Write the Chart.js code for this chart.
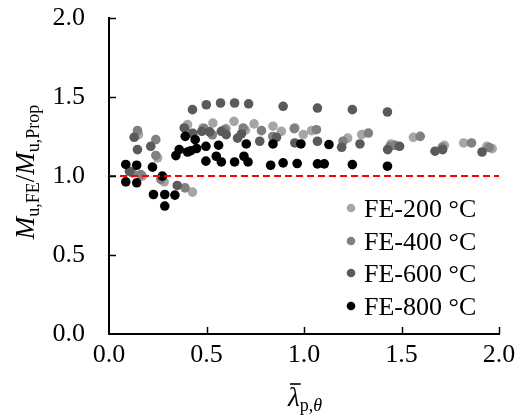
<!DOCTYPE html>
<html>
<head>
<meta charset="utf-8">
<script src="https://cdn.jsdelivr.net/npm/chart.js@4.4.1/dist/chart.umd.min.js"></script>
<style>
  html, body { margin: 0; padding: 0; background: #ffffff; }
  #wrap { width: 522px; height: 416px; position: relative; }
</style>
</head>
<body>
<div id="wrap"><canvas id="c" width="522" height="416"></canvas></div>
<script>
// ---- data ----
const seriesNames = ["FE-200 \u00b0C", "FE-400 \u00b0C", "FE-600 \u00b0C", "FE-800 \u00b0C"];
const seriesColors = ["#a6a6a6", "#808080", "#5a5a5a", "#000000"];

const fe200 = [[0.151,1.262],[0.249,1.115],[0.171,0.999],[0.283,0.963],[0.428,0.898],[0.403,1.325],
  [0.482,1.304],[0.533,1.335],[0.600,1.300],[0.641,1.346],[0.700,1.290],[0.744,1.330],[0.841,1.315],
  [0.884,1.283],[0.953,1.304],[0.996,1.262],[1.039,1.287],[1.224,1.240],[1.296,1.262],[1.447,1.203],
  [1.561,1.245],[1.720,1.194],[1.819,1.209],[1.938,1.188],[1.965,1.173]];
const fe400 = [[0.120,1.020],[0.146,1.287],[0.163,1.009],[0.240,1.230],[0.240,1.130],[0.266,0.978],
  [0.390,0.925],[0.410,1.270],[0.488,1.300],[0.530,1.260],[0.593,1.293],[0.688,1.304],[0.782,1.287],
  [0.840,1.250],[0.950,1.300],[1.064,1.293],[1.200,1.220],[1.330,1.272],[1.441,1.188],[1.467,1.194],
  [1.596,1.251],[1.709,1.182],[1.859,1.209],[1.950,1.180]];
const fe600 = [[0.105,1.030],[0.129,1.245],[0.146,1.167],[0.214,1.188],[0.350,0.940],[0.386,1.304],
  [0.428,1.420],[0.430,1.270],[0.476,1.283],[0.499,1.451],[0.516,1.279],[0.572,1.462],[0.576,1.283],
  [0.601,1.262],[0.644,1.462],[0.659,1.240],[0.679,1.266],[0.716,1.457],[0.773,1.220],[0.859,1.245],
  [0.893,1.441],[0.953,1.209],[1.069,1.430],[1.069,1.220],[1.193,1.182],[1.248,1.420],[1.287,1.203],
  [1.428,1.405],[1.429,1.167],[1.490,1.188],[1.672,1.157],[1.711,1.167],[1.913,1.152]];
const fe800 = [[0.086,1.073],[0.142,1.068],[0.086,0.963],[0.142,0.957],[0.223,1.056],[0.228,0.883],
  [0.274,0.999],[0.286,0.883],[0.286,0.810],[0.338,0.879],[0.343,1.129],[0.360,1.167],[0.391,1.251],
  [0.403,1.152],[0.420,1.160],[0.442,1.230],[0.449,1.174],[0.497,1.188],[0.497,1.094],[0.550,1.125],
  [0.562,1.195],[0.576,1.089],[0.644,1.089],[0.692,1.125],[0.704,1.203],[0.713,1.089],[0.829,1.068],
  [0.841,1.203],[0.893,1.083],[0.965,1.079],[0.984,1.203],[1.069,1.077],[1.104,1.077],[1.128,1.199],
  [1.248,1.072],[1.428,1.062]];
const refLine = [[0, 1.0], [2, 1.0]];
const xTicks = [0, 0.5, 1.0, 1.5, 2.0];
const yTicks = [0, 0.5, 1.0, 1.5, 2.0];

const FONT = "'Liberation Serif', 'Times New Roman', serif";
const toPts = arr => arr.map(p => ({x: p[0], y: p[1]}));
const allSeries = [fe200, fe400, fe600, fe800];

const datasets = allSeries.map((s, i) => ({
  type: 'scatter',
  label: seriesNames[i],
  data: toPts(s),
  backgroundColor: seriesColors[i],
  borderWidth: 0,
  pointRadius: 4.8,
  pointHoverRadius: 4.8,
  order: 4 - i + 1
}));
datasets.push({
  type: 'line',
  label: 'ref',
  data: toPts(refLine),
  borderColor: '#ff0000',
  borderWidth: 2,
  borderDash: [7, 4],
  pointRadius: 0,
  fill: false,
  order: 0
});

const decorPlugin = {
  id: 'decor',
  afterDraw(chart) {
    const ctx = chart.ctx;
    const xs = chart.scales.x, ys = chart.scales.y;
    const ca = chart.chartArea;
    ctx.save();
    // inside tick marks
    ctx.strokeStyle = '#000';
    ctx.lineWidth = 1.5;
    xTicks.forEach(v => {
      if (v === 0) return;
      const px = Math.round(xs.getPixelForValue(v)) + 0.5;
      ctx.beginPath(); ctx.moveTo(px, ca.bottom); ctx.lineTo(px, ca.bottom - 7); ctx.stroke();
    });
    yTicks.forEach(v => {
      if (v === 0) return;
      const py = Math.round(ys.getPixelForValue(v)) + 0.5;
      ctx.beginPath(); ctx.moveTo(ca.left, py); ctx.lineTo(ca.left + 7, py); ctx.stroke();
    });

    // legend
    ctx.textBaseline = 'alphabetic';
    ctx.textAlign = 'left';
    const rows = [208, 241, 273, 306];
    seriesNames.forEach((n, i) => {
      ctx.fillStyle = seriesColors[i];
      ctx.beginPath(); ctx.arc(351, rows[i], 4.3, 0, Math.PI * 2); ctx.fill();
      ctx.fillStyle = '#000';
      ctx.font = '26px ' + FONT;
      ctx.fillText(n, 364, rows[i] + 9);
    });

    // y axis title (rotated)
    ctx.save();
    ctx.translate(34, 172);
    ctx.rotate(-Math.PI / 2);
    const parts = [
      {t: 'M', f: 'italic 27px ' + FONT, dy: 0},
      {t: 'u,FE', f: '18px ' + FONT, dy: 5},
      {t: '/', f: '27px ' + FONT, dy: 0},
      {t: 'M', f: 'italic 27px ' + FONT, dy: 0},
      {t: 'u,Prop', f: '18px ' + FONT, dy: 5}
    ];
    let total = 0;
    parts.forEach(p => { ctx.font = p.f; p.w = ctx.measureText(p.t).width; total += p.w; });
    let cx = -total / 2;
    ctx.fillStyle = '#000';
    parts.forEach(p => { ctx.font = p.f; ctx.fillText(p.t, cx, p.dy); cx += p.w; });
    ctx.restore();

    // x axis title: lambda-bar with subscript p,theta
    ctx.font = 'italic 27px ' + FONT;
    const lw = ctx.measureText('\u03bb').width;
    ctx.font = '18px ' + FONT;
    const s1 = ctx.measureText('p,').width;
    ctx.font = 'italic 18px ' + FONT;
    const s2 = ctx.measureText('\u03b8').width;
    const tot = lw + s1 + s2;
    let x0 = 305 - tot / 2;
    const base = 406;
    ctx.fillStyle = '#000';
    ctx.font = 'italic 27px ' + FONT;
    ctx.fillText('\u03bb', x0, base);
    ctx.lineWidth = 1.6;
    ctx.beginPath(); ctx.moveTo(x0 + 2, base - 22); ctx.lineTo(x0 + lw + 1, base - 22); ctx.stroke();
    ctx.font = '18px ' + FONT;
    ctx.fillText('p,', x0 + lw, base + 5);
    ctx.font = 'italic 18px ' + FONT;
    ctx.fillText('\u03b8', x0 + lw + s1, base + 5);
    ctx.restore();
  }
};

new Chart(document.getElementById('c'), {
  data: { datasets },
  options: {
    responsive: false,
    animation: false,
    events: [],
    layout: { padding: { top: 18, right: 23, left: 0, bottom: 0 } },
    plugins: { legend: { display: false }, tooltip: { enabled: false }, title: { display: false } },
    scales: {
      x: {
        type: 'linear', min: 0, max: 2,
        afterFit(s) { s.height = 82; s.paddingLeft = 0; s.paddingRight = 0; },
        afterBuildTicks(s) { s.ticks = xTicks.map(v => ({value: v})); },
        ticks: { color: '#000', font: { family: FONT, size: 26 }, padding: 6,
                 callback: v => Number(v).toFixed(1), maxRotation: 0 },
        grid: { display: false, drawTicks: false },
        border: { display: true, color: '#000', width: 2 }
      },
      y: {
        type: 'linear', min: 0, max: 2,
        afterFit(s) { s.width = 109; s.paddingTop = 0; s.paddingBottom = 0; },
        afterBuildTicks(s) { s.ticks = yTicks.map(v => ({value: v})); },
        ticks: { color: '#000', font: { family: FONT, size: 26 }, padding: 24,
                 callback: v => Number(v).toFixed(1) },
        grid: { display: false, drawTicks: false },
        border: { display: true, color: '#000', width: 2 }
      }
    }
  },
  plugins: [decorPlugin]
});
</script>
</body>
</html>
